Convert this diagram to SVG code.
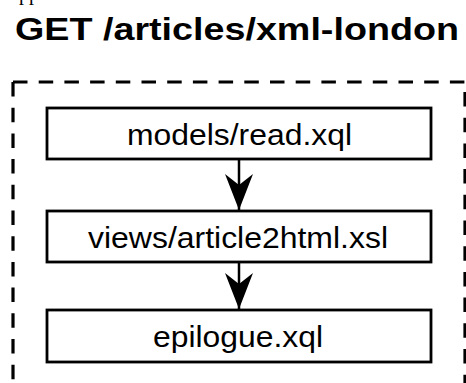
<svg xmlns="http://www.w3.org/2000/svg" width="466" height="383" viewBox="0 0 466 383">
<defs>
<style>
.box{fill:#fff;stroke:#000;stroke-width:2.8}
.lbl{font-family:"Liberation Sans",Arial,sans-serif;font-size:29px;fill:#000;text-anchor:middle}
.dash{fill:none;stroke:#000;stroke-width:3.2;stroke-dasharray:14.5 11.2}
.edge{fill:none;stroke:#000;stroke-width:2.5}
</style>
<marker id="arr" viewBox="0 -15 37 30" refX="36" refY="0" markerWidth="37" markerHeight="30" markerUnits="userSpaceOnUse" orient="auto">
<path d="M0,-14 L36,0 L0,14 L11,0 Z" fill="#000"/>
</marker>
</defs>
<rect width="466" height="383" fill="#fff"/>
<text x="19" y="0" font-family="'Liberation Serif',serif" font-size="20" fill="#000">pp</text>
<text x="15" y="40" font-family="'Liberation Sans',Arial,sans-serif" font-size="32" font-weight="bold" fill="#000" textLength="444" lengthAdjust="spacingAndGlyphs">GET /articles/xml-london</text>
<g id="container">
<path class="dash" d="M13,82 H466"/>
<path class="dash" d="M13,82 V390"/>
<path class="dash" d="M465,92 V390"/>
</g>
<g id="connectors">
<path class="edge" d="M239,159 V210" marker-end="url(#arr)"/>
<path class="edge" d="M239,262 V309" marker-end="url(#arr)"/>
</g>
<g id="n1">
<rect class="box" x="47" y="108" width="384" height="51"/>
<text class="lbl" x="239.5" y="145" textLength="225" lengthAdjust="spacingAndGlyphs">models/read.xql</text>
</g>
<g id="n2">
<rect class="box" x="47" y="211" width="384" height="51"/>
<text class="lbl" x="238" y="248" textLength="300" lengthAdjust="spacingAndGlyphs">views/article2html.xsl</text>
</g>
<g id="n3">
<rect class="box" x="47" y="310" width="384" height="52"/>
<text class="lbl" x="238" y="347" textLength="170" lengthAdjust="spacingAndGlyphs">epilogue.xql</text>
</g>
</svg>
